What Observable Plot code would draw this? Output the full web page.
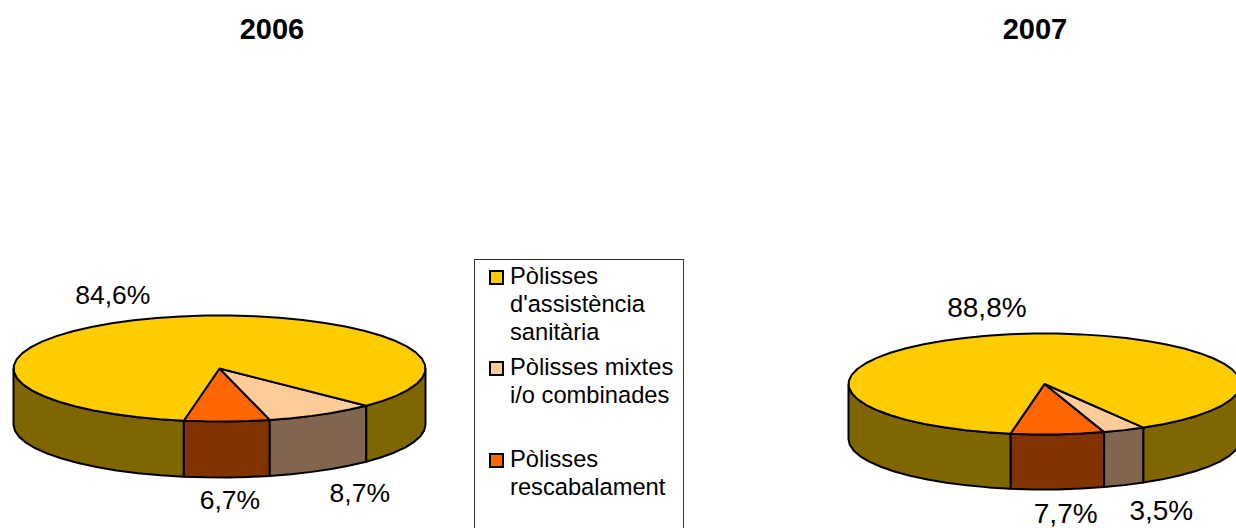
<!DOCTYPE html>
<html lang="ca">
<head>
<meta charset="utf-8">
<script src="https://cdn.jsdelivr.net/npm/d3@7"></script>
<script src="https://cdn.jsdelivr.net/npm/@observablehq/plot@0.6"></script>
<style>
html,body{margin:0;padding:0;background:#fff;width:1236px;height:528px;overflow:hidden}
body{position:relative;font-family:"Liberation Sans",Arial,sans-serif;color:#000}
#chart{position:absolute;left:0;top:0}
.title{position:absolute;top:12px;font-weight:bold;font-size:29px;line-height:34px;width:200px;text-align:center}
#legend{position:absolute;left:474px;top:259px;width:208px;height:300px;border:1px solid #333;background:#fff;box-sizing:content-box}
.row{position:absolute;left:35px;font-size:23.7px;line-height:28px;white-space:pre}
.swatch{position:absolute;left:14px;width:11px;height:11px;border:2px solid #000}
</style>
</head>
<body>
<div class="title" style="left:172px">2006</div>
<div class="title" style="left:935px">2007</div>
<div id="chart"></div>
<div id="legend"></div>
<script>
const years = ["2006", "2007"];
const categories = ["Pòlisses rescabalament", "Pòlisses mixtes i/o combinades", "Pòlisses d'assistència sanitària"];
const values2006 = [6.7, 8.7, 84.6];
const values2007 = [7.7, 3.5, 88.8];
const topColors = ["#FF6600", "#FFCC99", "#FFCC00"];
const wallColors = ["#803300", "#806650", "#806600"];
const legendOrder = [2, 1, 0];
const legendLines = [["Pòlisses", "d'assistència", "sanitària"], ["Pòlisses mixtes", "i/o combinades"], ["Pòlisses", "rescabalament"]];

// pie geometry (screen units of the identity scales)
const geom = {
  "2006": {cx: 219, cy: 368, rx: 206, ry: 53, depth: 56, values: values2006, fontSize: 26.5,
           nudge: [[3, 23], [38, 23], [-44, -22.5]]},
  "2007": {cx: 1044, cy: 383.5, rx: 196, ry: 50.5, depth: 55, values: values2007, fontSize: 28,
           nudge: [[8, 25], [37, 26], [-23, -26]]}
};
const startAngle = -10, stepDeg = 7;
const rad = d => d * Math.PI / 180;

const polys = [], labels = [];
for (const year of years) {
  const g = geom[year];
  const px = a => g.cx + g.rx * Math.sin(rad(a));
  const py = a => g.cy + g.ry * Math.cos(rad(a));
  const arc = (a0, a1) => {
    const n = Math.max(1, Math.ceil((a1 - a0) / stepDeg)), out = [];
    for (let i = 0; i <= n; i++) out.push(a0 + (a1 - a0) * i / n);
    return out;
  };
  let a = startAngle;
  const slices = g.values.map((v, i) => { const s = {i, v, a0: a, a1: a + v * 3.6}; a = s.a1; return s; });
  const walls = [], tops = [];
  for (const s of slices) {
    // front wall: parts of the rim facing the viewer, angles in [-90,90] or [270,450]
    for (const [lo, hi] of [[-90, 90], [270, 450]]) {
      const a0 = Math.max(s.a0, lo), a1 = Math.min(s.a1, hi);
      if (a1 <= a0) continue;
      const rim = arc(a0, a1);
      const pts = [
        ...rim.map(t => [px(t), py(t)]),
        ...rim.slice().reverse().map(t => [px(t), py(t) + g.depth])
      ];
      pts.push(pts[0]);
      walls.push({id: `${year}-w${s.i}-${lo}`, fill: wallColors[s.i], pts});
    }
    const pts = [[g.cx, g.cy], ...arc(s.a0, s.a1).map(t => [px(t), py(t)]), [g.cx, g.cy]];
    tops.push({id: `${year}-t${s.i}`, fill: topColors[s.i], pts});
    const mid = (s.a0 + s.a1) / 2;
    const front = Math.cos(rad(mid)) > 0;
    labels.push({
      year,
      x: px(mid) + g.nudge[s.i][0],
      y: py(mid) + (front ? g.depth : 0) + g.nudge[s.i][1],
      text: s.v.toFixed(1).replace(".", ",") + "%"
    });
  }
  for (const p of [...walls, ...tops]) for (const [x, y] of p.pts) polys.push({id: p.id, fill: p.fill, x, y});
}

const plot = Plot.plot({
  width: 1236, height: 528,
  marginTop: 0, marginRight: 0, marginBottom: 0, marginLeft: 0,
  x: {domain: [0, 1236], range: [0, 1236], axis: null},
  y: {domain: [0, 528], range: [0, 528], axis: null},
  color: {type: "identity"},
  style: {background: "transparent", fontFamily: "'Liberation Sans', Arial, sans-serif"},
  marks: [
    Plot.line(polys, {x: "x", y: "y", z: "id", fill: "fill", stroke: "#000", strokeWidth: 2, strokeLinejoin: "round", curve: "linear"}),
    ...years.map(year => Plot.text(labels.filter(d => d.year === year), {
      x: "x", y: "y", text: "text", fontSize: geom[year].fontSize, fill: "#000", textAnchor: "middle", lineAnchor: "middle"
    }))
  ]
});
document.getElementById("chart").append(plot);

// legend
const legend = document.getElementById("legend");
const rowTops = [2, 93, 185];
legendOrder.forEach((c, k) => {
  const sw = document.createElement("div");
  sw.className = "swatch";
  sw.style.top = (rowTops[k] + 8) + "px";
  sw.style.background = topColors[c];
  legend.append(sw);
  legendLines[k].forEach((line, j) => {
    const r = document.createElement("div");
    r.className = "row";
    r.style.top = (rowTops[k] + j * 28) + "px";
    r.textContent = line;
    legend.append(r);
  });
});
</script>
</body>
</html>
